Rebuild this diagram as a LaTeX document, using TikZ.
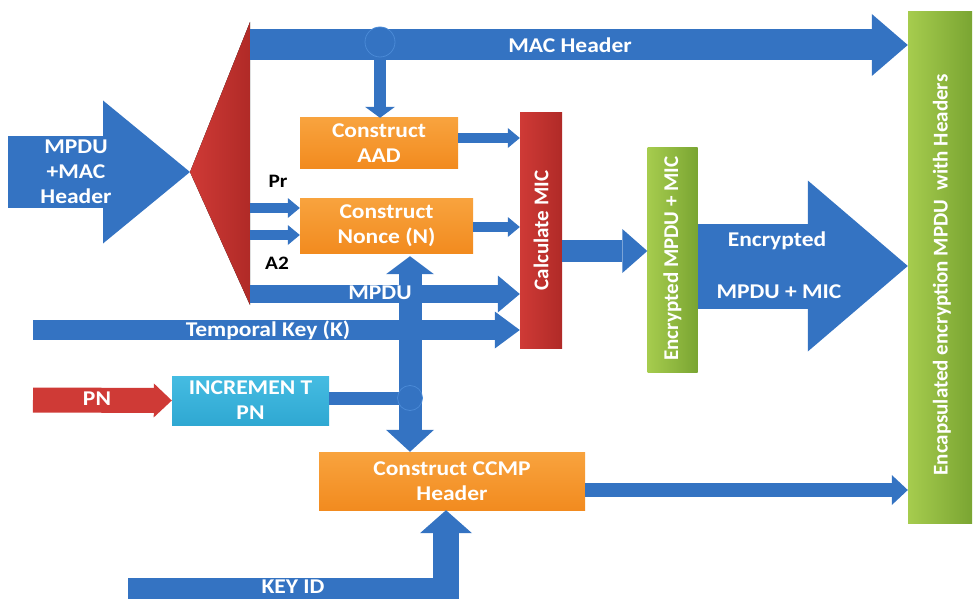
\documentclass[tikz,border=0pt]{standalone}
\usepackage{fontspec}
\setmainfont{Carlito}[FakeStretch=1.12]
\newfontfamily\rotfont{Carlito}
\usetikzlibrary{arrows.meta,calc}
\definecolor{mblue}{HTML}{3473C2}
\definecolor{mbluel}{HTML}{4A8AD6}
\definecolor{morange}{HTML}{F28B1F}
\definecolor{morangel}{HTML}{F8A33E}
\definecolor{mred}{HTML}{CF3A36}
\definecolor{mredd}{HTML}{B02A27}
\definecolor{mgreen}{HTML}{8FBC3C}
\definecolor{mgreenl}{HTML}{A6CC4E}
\definecolor{mgreend}{HTML}{7AA532}
\definecolor{mcyan}{HTML}{2FA8D2}
\definecolor{mcyanl}{HTML}{45BCE2}
\tikzset{
  txt/.style={text=white, font=\fontsize{21}{25}\selectfont\bfseries, align=center, inner sep=0pt},
  rtxt/.style={text=white, font=\rotfont\fontsize{21}{25}\selectfont\bfseries, align=center, inner sep=0pt, rotate=90},
  obox/.style={rectangle, top color=morangel, bottom color=morange, draw=none, inner sep=0pt, txt},
  cbox/.style={rectangle, top color=mcyanl, bottom color=mcyan, draw=none, inner sep=0pt, txt},
  rbox/.style={rectangle, left color=mred, right color=mredd, draw=none, inner sep=0pt},
  gbox/.style={rectangle, left color=mgreenl, right color=mgreend, draw=none, inner sep=0pt},
  barrow/.style={draw=mblue, line join=miter},
  redarrow/.style={draw=mred, line join=miter},
  lbl/.style={text=black, font=\fontsize{19}{22}\selectfont\bfseries, inner sep=0pt},
  jdot/.style={circle, fill=mblue, draw=mbluel, line width=0.8pt, inner sep=0pt}
}
\begin{document}
\begin{tikzpicture}[x=1pt,y=-1pt]
\useasboundingbox (0,0) rectangle (974,599);

% boxes
\node[gbox, minimum width=64pt, minimum height=511pt] (encap) at (940,267.5) {};
\node[gbox, minimum width=50pt, minimum height=225pt] (encmic) at (672.5,259.5) {};
\node[rbox, minimum width=42pt, minimum height=235pt] (calc) at (541,230.5) {};
\node[obox, minimum width=158pt, minimum height=50pt] (aad) at (379,143) {Construct\\AAD};
\node[obox, minimum width=173pt, minimum height=55pt] (nonce) at (386.5,225.5) {Construct\\Nonce (N)};
\node[obox, minimum width=266pt, minimum height=58pt] (ccmp) at (452,481) {Construct CCMP\\Header};
\node[cbox, minimum width=157pt, minimum height=49pt] (inc) at (250.5,400.5) {INCREMEN T\\PN};

% input arrow and splitter
\coordinate (inL) at (8,172);
\coordinate (tip) at (190,172);
\coordinate (splitT) at (250,22);
\coordinate (splitB) at (250,305);
\draw[barrow, line width=71pt, -{Triangle[length=87pt,width=143pt,line width=0pt]}] (inL) -- (tip);
\fill[left color=mred, right color=mredd] (tip) -- (splitT) -- (splitB) -- cycle;

% MAC header
\draw[barrow, line width=31pt, -{Triangle[length=36pt,width=62pt,line width=0pt]}] (splitT |- 0,45) -- (encap.west |- 0,45);
\draw[barrow, line width=12pt, -{Triangle[length=11pt,width=30pt,line width=0pt]}] (380,50) coordinate (j1c) -- (j1c |- aad.north);
\node[jdot, minimum size=30pt] (j1) at (380,42) {};

% into calculate MIC
\draw[barrow, line width=10pt, -{Triangle[length=12pt,width=20pt,line width=0pt]}] (aad.east |- 0,138) -- (calc.west |- 0,138);
\draw[barrow, line width=10pt, -{Triangle[length=12pt,width=20pt,line width=0pt]}] (splitT |- 0,208) -- (nonce.west |- 0,208);
\draw[barrow, line width=10pt, -{Triangle[length=12pt,width=20pt,line width=0pt]}] (splitT |- 0,235) -- (nonce.west |- 0,235);
\draw[barrow, line width=10pt, -{Triangle[length=12pt,width=20pt,line width=0pt]}] (nonce.east |- 0,227) -- (calc.west |- 0,227);
\draw[barrow, line width=18pt, -{Triangle[length=22pt,width=37pt,line width=0pt]}] (splitT |- 0,294) -- (calc.west |- 0,294);
\coordinate (tkL) at (33,330);
\draw[barrow, line width=20pt, -{Triangle[length=25pt,width=37pt,line width=0pt]}] (tkL) -- (calc.west |- tkL);

% PN and increment
\coordinate (pnL) at (33,400);
\draw[redarrow, line width=25pt, -{Triangle[length=18pt,width=34pt,line width=0pt]}] (pnL) -- (inc.west);
\coordinate (j2c) at (410,398);
\draw[barrow, line width=23pt, {Triangle[length=18pt,width=48pt,line width=0pt]}-{Triangle[length=22pt,width=48pt,line width=0pt]}] ($(j2c |- nonce.south)+(0,3)$) -- (j2c |- ccmp.north);
\draw[barrow, line width=13pt] (inc.east |- j2c) -- (j2c);
\node[jdot, minimum size=25pt] (j2) at (j2c) {};

% outputs
\draw[barrow, line width=22pt, -{Triangle[length=25pt,width=44pt,line width=0pt]}] (calc.east |- 0,251) -- (encmic.west |- 0,251);
\draw[barrow, line width=85pt, -{Triangle[length=100pt,width=171pt,line width=0pt]}] (encmic.east |- 0,266) -- (encap.west |- 0,266);
\draw[barrow, line width=14pt, -{Triangle[length=16pt,width=30pt,line width=0pt]}] (ccmp.east |- 0,490) -- (encap.west |- 0,490);
\coordinate (kL) at (128,591);
\coordinate (kC) at (446,591);
\draw[barrow, line width=26pt, -{Triangle[length=23pt,width=52pt,line width=0pt]}] (kL) -- (kC) -- (kC |- ccmp.south);

% labels
\node[txt] (tin) at (76,172) {MPDU\\+MAC\\Header};
\node[txt] (tmac) at (570,45) {MAC Header};
\node[txt] (tmpdu) at (380,293) {MPDU};
\node[txt] (ttk) at (268,330) {Temporal Key (K)};
\node[txt] (tpn) at (97,399) {PN};
\node[txt] (tkey) at (293,587) {KEY ID};
\node[txt] (tenc1) at (777,241) {Encrypted};
\node[txt] (tenc2) at (779,292) {MPDU + MIC};
\node[lbl] (tpr) at (278,181) {Pr};
\node[lbl] (ta2) at (277,263) {A2};
\node[rtxt] at (calc.center) {Calculate MIC};
\node[rtxt] at (672.5,258.5) {Encrypted MPDU + MIC};
\node[rtxt] at (942,275) {Encapsulated encryption MPDU\ \ with Headers};
\end{tikzpicture}
\end{document}
